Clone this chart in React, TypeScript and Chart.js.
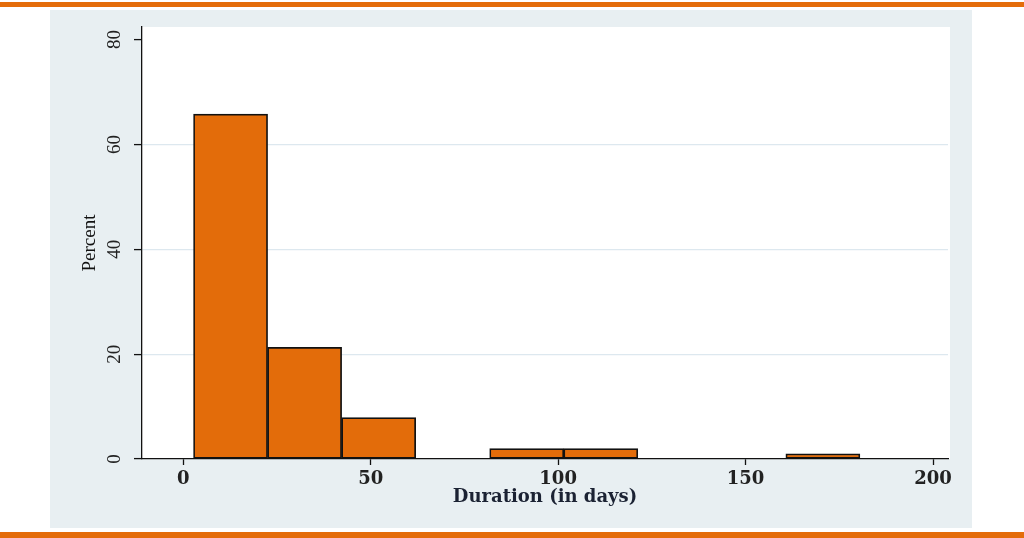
import { useEffect, useRef } from "react";
import { Chart, registerables } from "chart.js";

Chart.register(...registerables);

// Histogram bins (centre of each bin, in days) and their share (%)
const binCenters = [12.625, 32.375, 52.125, 71.875, 91.625, 111.375, 131.125, 150.875, 170.625];
const percents = [65.8, 21.3, 7.9, 0, 2.0, 2.0, 0, 0, 1.0];
const xTicks = [0, 50, 100, 150, 200];
const yTicks = [0, 20, 40, 60, 80];
const gridValues = [20, 40, 60];
const xTitle = "Duration (in days)";
const yTitle = "Percent";

const backdrop = {
  id: "backdrop",
  beforeDraw(chart: any) {
    const { ctx, width, height, chartArea } = chart;
    ctx.save();
    ctx.fillStyle = "#ffffff";
    ctx.fillRect(0, 0, width, height);
    ctx.fillStyle = "#e46c0a";
    ctx.fillRect(0, 2, width, 5);
    ctx.fillRect(0, 532, width, 6);
    ctx.fillStyle = "#e8eff2";
    ctx.fillRect(50, 10, 922, 518);
    ctx.fillStyle = "#ffffff";
    ctx.fillRect(
      chartArea.left,
      chartArea.top,
      chartArea.right - chartArea.left + 2,
      chartArea.bottom - chartArea.top
    );
    ctx.restore();
  },
};

export default function App() {
  const ref = useRef<HTMLCanvasElement | null>(null);

  useEffect(() => {
    if (!ref.current) return;
    const chart = new Chart(ref.current, {
      type: "bar",
      data: {
        datasets: [
          {
            data: binCenters.map((x, i) => ({ x, y: percents[i] })),
            backgroundColor: "#e36c0a",
            borderColor: "#111111",
            borderWidth: 1.7,
            borderSkipped: false,
            barPercentage: 1,
            categoryPercentage: 1,
          },
        ],
      },
      options: {
        animation: false,
        responsive: false,
        events: [],
        layout: { padding: { left: 0, top: 27, right: 76, bottom: 0 } },
        plugins: { legend: { display: false }, tooltip: { enabled: false } },
        scales: {
          x: {
            type: "linear",
            min: -11,
            max: 204,
            offset: false,
            afterBuildTicks: (scale: any) => {
              scale.ticks = xTicks.map((v) => ({ value: v }));
            },
            afterFit: (scale: any) => {
              scale.height = 79;
            },
            grid: {
              display: true,
              offset: false,
              drawOnChartArea: false,
              drawTicks: true,
              tickLength: 6,
              tickColor: "#111111",
              tickWidth: 1.3,
            },
            border: { display: true, color: "#111111", width: 1.3 },
            ticks: {
              padding: 4,
              maxRotation: 0,
              color: "#222222",
              font: { family: "'DejaVu Serif'", size: 18, weight: "bold" },
              callback: (v: any) => String(v),
            },
            title: {
              display: true,
              text: xTitle,
              color: "#1b2233",
              font: { family: "'DejaVu Serif'", size: 18, weight: "bold" },
              padding: { top: 0, bottom: 30 },
            },
          },
          y: {
            type: "linear",
            min: 0,
            max: 82.4,
            afterBuildTicks: (scale: any) => {
              scale.ticks = yTicks.map((v) => ({ value: v }));
            },
            afterFit: (scale: any) => {
              scale.width = 142;
            },
            grid: {
              display: true,
              drawTicks: true,
              tickLength: 8,
              color: (c: any) =>
                c.tick && gridValues.includes(c.tick.value) ? "#dde8ef" : "rgba(0,0,0,0)",
              lineWidth: 1.2,
              tickColor: "#111111",
              tickWidth: 1.3,
            },
            border: { display: true, color: "#111111", width: 1.3 },
            ticks: {
              minRotation: 90,
              maxRotation: 90,
              crossAlign: "center",
              padding: 9,
              color: "#222222",
              font: { family: "'Liberation Serif'", size: 19 },
              callback: (v: any) => String(v),
            },
            title: {
              display: true,
              text: yTitle,
              color: "#111111",
              font: { family: "'Liberation Serif'", size: 19 },
              padding: { top: 79, bottom: 0 },
            },
          },
        },
      } as any,
      plugins: [backdrop],
    });
    return () => chart.destroy();
  }, []);

  return (
    <div style={{ position: "absolute", left: 0, top: 0, width: 1024, height: 538 }}>
      <canvas ref={ref} width={1024} height={538} style={{ width: 1024, height: 538, display: "block" }} />
    </div>
  );
}
